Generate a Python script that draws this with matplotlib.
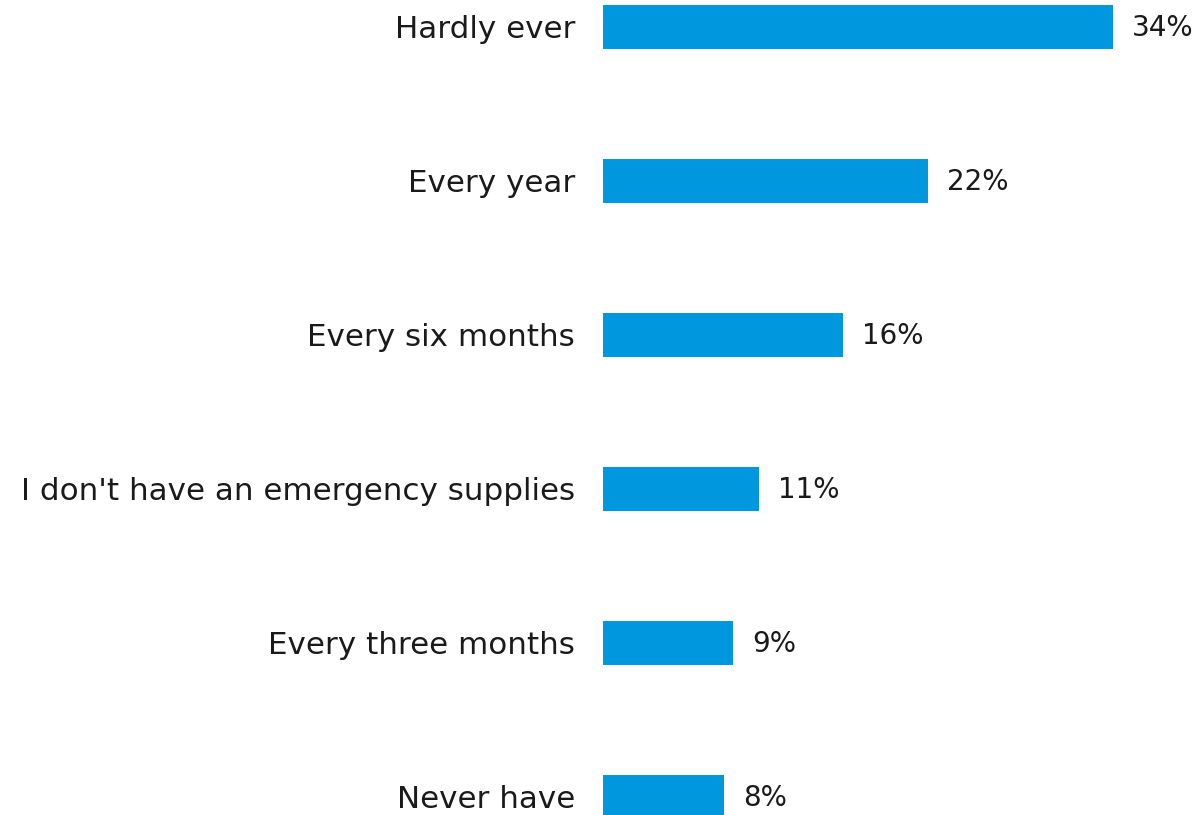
import matplotlib.pyplot as plt

# survey answers, top to bottom
categories = ['Hardly ever', 'Every year', 'Every six months',
              "I don't have an emergency supplies", 'Every three months',
              'Never have']
values = [34.0, 21.7, 16.0, 10.4, 8.7, 8.1]
labels = ['34%', '22%', '16%', '11%', '9%', '8%']

bar_color = '#0097de'

fig = plt.figure(figsize=(11.97, 8.15), dpi=100)
ax = fig.add_axes([603/1197, 0, 594/1197, 1])

ypos = list(range(len(categories)))
ax.barh(ypos, values, height=0.28, color=bar_color)

ax.set_xlim(0, 594/14.99)
ax.set_ylim(5 + 18/154, -27/154)

ax.set_yticks(ypos)
ax.set_yticklabels(categories, fontsize=22.3, color='#1a1a1a')
ax.tick_params(axis='y', length=0, pad=20)
ax.set_xticks([])
for s in ax.spines.values():
    s.set_visible(False)

for y, v, lab in zip(ypos, values, labels):
    ax.annotate(lab, (v, y), xytext=(13.5, -1), textcoords='offset points',
                va='center', ha='left', fontsize=20, color='#1a1a1a')

fig.savefig('out.png', dpi=100)
